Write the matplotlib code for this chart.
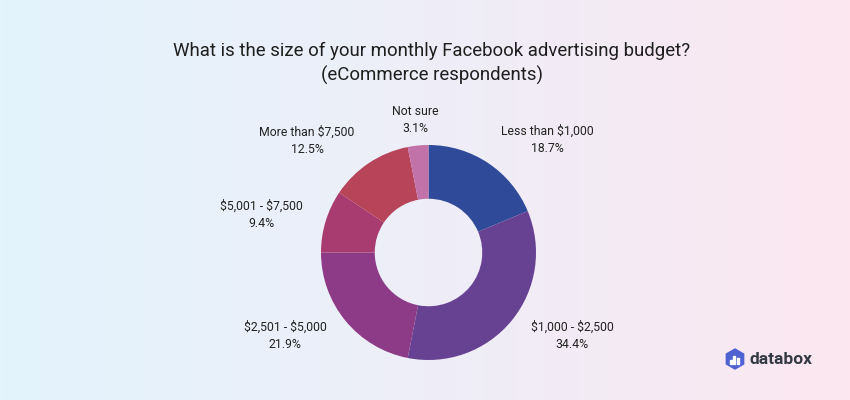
import numpy as np
import matplotlib
matplotlib.use("Agg")
import matplotlib.pyplot as plt
from matplotlib.patches import RegularPolygon, Rectangle
from matplotlib.colors import LinearSegmentedColormap

plt.rcParams['font.family'] = ['Roboto', 'DejaVu Sans']
plt.rcParams['text.parse_math'] = False

categories = ["Less than $1,000", "$1,000 - $2,500", "$2,501 - $5,000",
              "$5,001 - $7,500", "More than $7,500", "Not sure"]
values = [18.7, 34.4, 21.9, 9.4, 12.5, 3.1]
colors = ["#2E4A99", "#684292", "#8D3B86", "#A83B6F", "#B74459", "#C172A8"]
title = "What is the size of your monthly Facebook advertising budget?\n(eCommerce respondents)"

W, H = 850, 400
fig = plt.figure(figsize=(8.5, 4), dpi=100)

# background gradient
bg = fig.add_axes([0, 0, 1, 1], zorder=0)
cmap = LinearSegmentedColormap.from_list("bg", ["#E3F4FC", "#EEEEF8", "#FCE7F0"])
bg.imshow(np.linspace(0, 1, 256)[None, :], aspect="auto", cmap=cmap, extent=[0, 1, 0, 1])
bg.set_axis_off()

# donut
cx, cy, r = 428.5, 252.5, 107.5
ax = fig.add_axes([(cx - r) / W, (H - cy - r) / H, 2 * r / W, 2 * r / H], zorder=1)
ax.pie(values, colors=colors, startangle=90, counterclock=False, radius=1,
       wedgeprops=dict(width=0.5, linewidth=0))
ax.set_xlim(-1, 1)
ax.set_ylim(-1, 1)
ax.set_aspect("equal")
ax.set_axis_off()

# labels (pixel positions of label centres)
label_pos = [(547, 140), (572, 336), (285, 336), (261, 215), (307, 141), (415, 120)]
for cat, v, (px, py) in zip(categories, values, label_pos):
    fig.text(px / W, 1 - py / H, f"{cat}\n{v}%", ha="center", va="center",
             fontsize=8.8, color="#222222", linespacing=1.4, zorder=3,
             parse_math=False)

fig.text(432 / W, 1 - 63.5 / H, title, ha="center", va="center", fontsize=13.4,
         color="#1f1f1f", linespacing=1.4, zorder=3)

# databox logo
lx = fig.add_axes([0, 0, 1, 1], zorder=2)
lx.set_xlim(0, W)
lx.set_ylim(H, 0)
lx.set_axis_off()
lx.add_patch(RegularPolygon((735, 359), 6, radius=10, orientation=0, color="#4F62D2"))
for bx, bh in [(731, 4), (734.5, 8), (738, 6)]:
    lx.add_patch(Rectangle((bx - 1, 364 - bh), 2, bh, color="white"))
lx.text(750, 359, "databox", ha="left", va="center", fontsize=12.5,
        fontweight="bold", color="#343a44")

fig.savefig("out.png", dpi=100)
